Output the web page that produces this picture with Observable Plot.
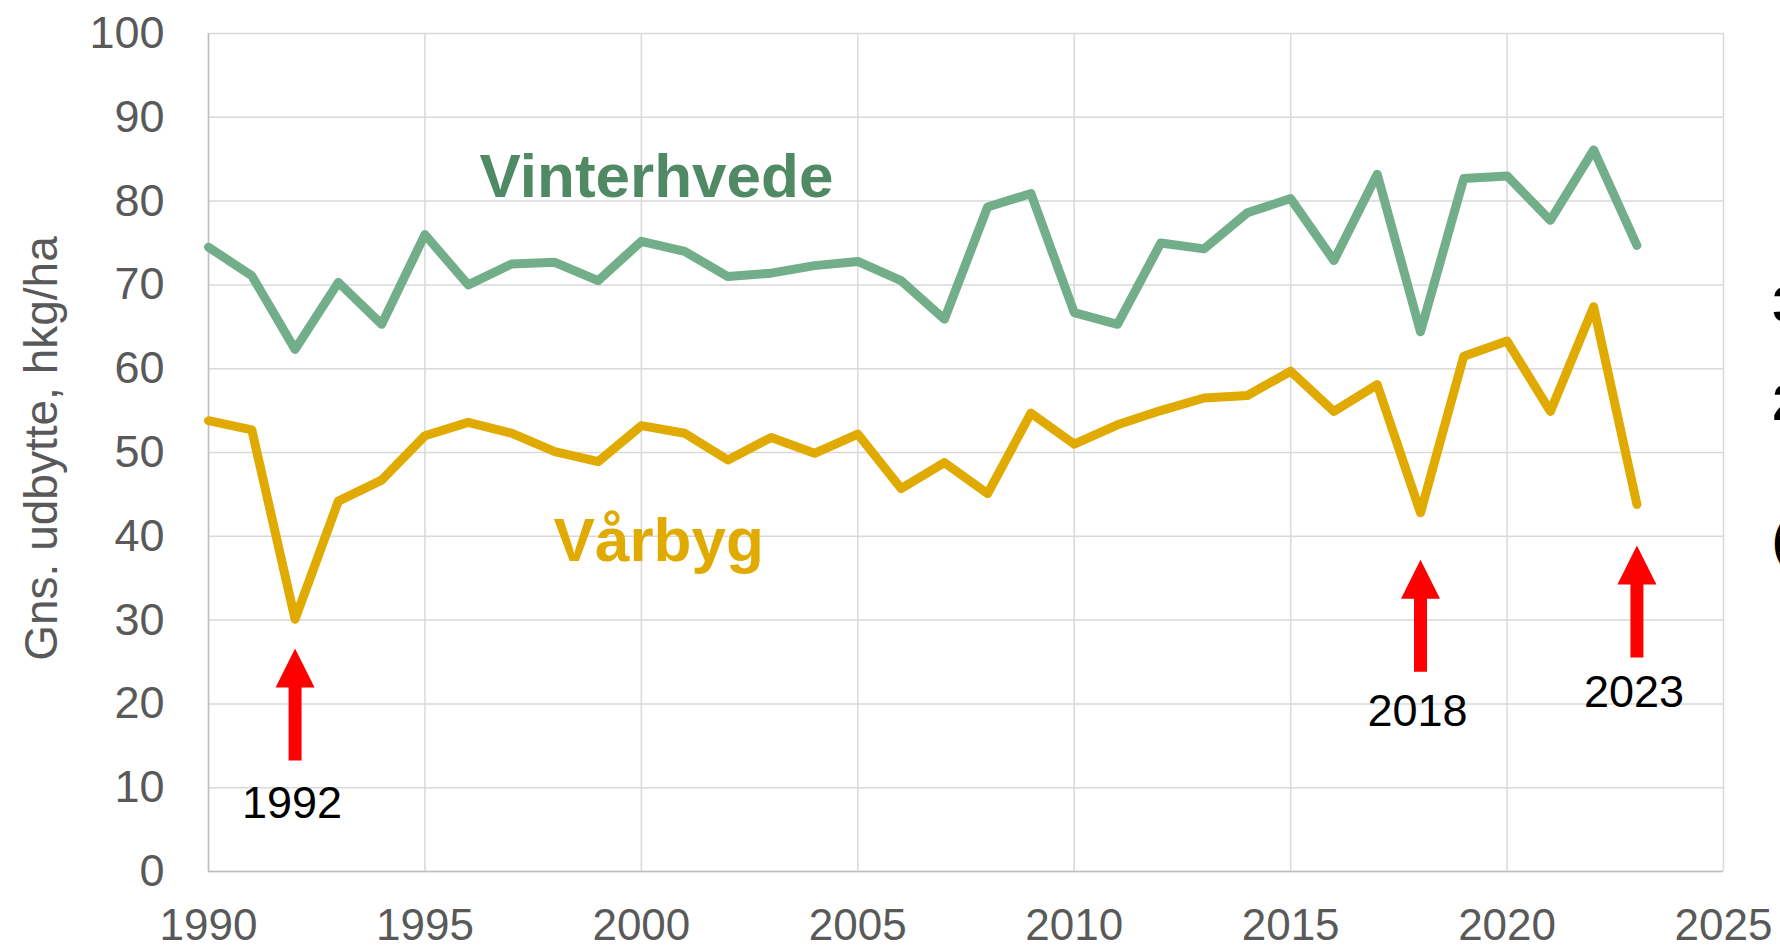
<!DOCTYPE html>
<html>
<head>
<meta charset="utf-8">
<script src="https://cdn.jsdelivr.net/npm/d3@7"></script>
<script src="https://cdn.jsdelivr.net/npm/@observablehq/plot@0.6"></script>
<style>
  html, body { margin: 0; padding: 0; background: #ffffff; overflow: hidden; }
  #chart svg { display: block; }
</style>
</head>
<body>
<div id="chart"></div>
<script>
// ---- Data ----
const years = [1990,1991,1992,1993,1994,1995,1996,1997,1998,1999,2000,2001,2002,2003,2004,2005,2006,2007,2008,2009,2010,2011,2012,2013,2014,2015,2016,2017,2018,2019,2020,2021,2022,2023];
const vinterhvede = [74.5,71.1,62.3,70.3,65.3,76.0,70.0,72.5,72.7,70.5,75.2,74.0,71.0,71.4,72.3,72.8,70.5,65.9,79.3,80.9,66.7,65.3,75.0,74.3,78.6,80.3,72.9,83.2,64.4,82.7,83.0,77.7,86.1,74.7];
const vaarbyg = [53.8,52.7,30.1,44.2,46.7,52.0,53.6,52.3,50.1,48.9,53.2,52.3,49.1,51.8,49.9,52.2,45.7,48.8,45.1,54.7,51.0,53.3,55.0,56.5,56.8,59.7,54.9,58.1,42.8,61.5,63.3,54.9,67.4,43.8];

const xTicks = [1990,1995,2000,2005,2010,2015,2020,2025];
const yTicks = [0,10,20,30,40,50,60,70,80,90,100];

const seriesNames = ["Vinterhvede", "Vårbyg"];
const seriesLabelYear = [2000.35, 2000.4];
const seriesLabelValue = [80.5, 37.0];

const arrowYears = [1992, 2018, 2023];
const arrowTip = [26.6, 37.2, 38.9];
const arrowLabelValue = [6.4, 17.4, 19.6];

const yTitle = "Gns. udbytte, hkg/ha";
const edgeGlyphs = ["3", "2", "("];

// ---- Tables built from the arrays ----
const rows = [];
years.forEach((yr, i) => {
  rows.push({year: yr, value: vinterhvede[i], series: seriesNames[0]});
  rows.push({year: yr, value: vaarbyg[i], series: seriesNames[1]});
});
const seriesLabels = seriesNames.map((s, i) => ({name: s, x: seriesLabelYear[i], y: seriesLabelValue[i]}));
const arrows = arrowYears.map((yr, i) => ({year: yr, tip: arrowTip[i], label: String(yr), ly: arrowLabelValue[i]}));

const green = "#73ae8a";
const greenText = "#4f8a64";
const gold = "#e0aa00";
const gray = "#595959";
const font = "'Liberation Sans', Arial, sans-serif";

// block arrow symbol: tip at origin, pointing up
const blockArrow = {
  draw(ctx, size) {
    const u = Math.sqrt(size / Math.PI) / 13;
    ctx.moveTo(0, 0);
    ctx.lineTo(19.5 * u, 39 * u);
    ctx.lineTo(6.5 * u, 39 * u);
    ctx.lineTo(6.5 * u, 112 * u);
    ctx.lineTo(-6.5 * u, 112 * u);
    ctx.lineTo(-6.5 * u, 39 * u);
    ctx.lineTo(-19.5 * u, 39 * u);
    ctx.closePath();
  }
};

const chart = Plot.plot({
  width: 1780,
  height: 949,
  marginLeft: 208,
  marginRight: 57,
  marginTop: 33,
  marginBottom: 78,
  style: {fontFamily: font, background: "#ffffff", overflow: "hidden"},
  x: {domain: [1990, 2025], ticks: xTicks, tickFormat: d => String(d)},
  y: {domain: [0, 100], ticks: yTicks},
  marks: [
    Plot.gridX(xTicks, {stroke: "#d9d9d9", strokeOpacity: 1, strokeWidth: 1.5}),
    Plot.gridY(yTicks, {stroke: "#d9d9d9", strokeOpacity: 1, strokeWidth: 1.5}),
    Plot.ruleX([1990], {stroke: "#bfbfbf", strokeWidth: 1.5}),
    Plot.ruleY([0], {stroke: "#bfbfbf", strokeWidth: 1.5}),
    Plot.axisX(xTicks, {tickSize: 0, tickPadding: 37, fontSize: 44, color: gray, tickFormat: d => String(d), label: null}),
    Plot.axisY(yTicks, {tickSize: 0, tickPadding: 44, fontSize: 45, color: gray, label: null}),
    Plot.text([yTitle], {frameAnchor: "left", dx: -166, dy: -4, rotate: -90, fontSize: 46, fill: gray, textAnchor: "middle", lineAnchor: "middle"}),
    Plot.line(rows, {x: "year", y: "value", z: "series", stroke: d => d.series === seriesNames[0] ? green : gold, strokeWidth: 9, strokeLinejoin: "round", strokeLinecap: "round"}),
    Plot.text(seriesLabels, {x: "x", y: "y", text: "name", fill: (d, i) => i === 0 ? greenText : gold, fontSize: 62, fontWeight: "bold", textAnchor: "middle", lineAnchor: "bottom"}),
    Plot.dot(arrows, {x: "year", y: "tip", symbol: blockArrow, r: 13, fill: "#ff0000", stroke: null}),
    Plot.text(arrows, {x: "year", y: "ly", text: "label", fill: "#000000", fontSize: 45, textAnchor: "middle", lineAnchor: "bottom", dx: -3}),
    Plot.text([edgeGlyphs[0]], {frameAnchor: "top-right", dx: 49, dy: 272, fontSize: 50, fontWeight: "bold", fill: "#000", textAnchor: "start", lineAnchor: "middle"}),
    Plot.text([edgeGlyphs[1]], {frameAnchor: "top-right", dx: 49, dy: 370, fontSize: 50, fontWeight: "bold", fill: "#000", textAnchor: "start", lineAnchor: "middle"}),
    Plot.text([edgeGlyphs[2]], {frameAnchor: "top-right", dx: 49, dy: 508, fontSize: 46, fontWeight: "bold", fill: "#000", textAnchor: "start", lineAnchor: "middle"})
  ]
});
document.getElementById("chart").appendChild(chart);
</script>
</body>
</html>
